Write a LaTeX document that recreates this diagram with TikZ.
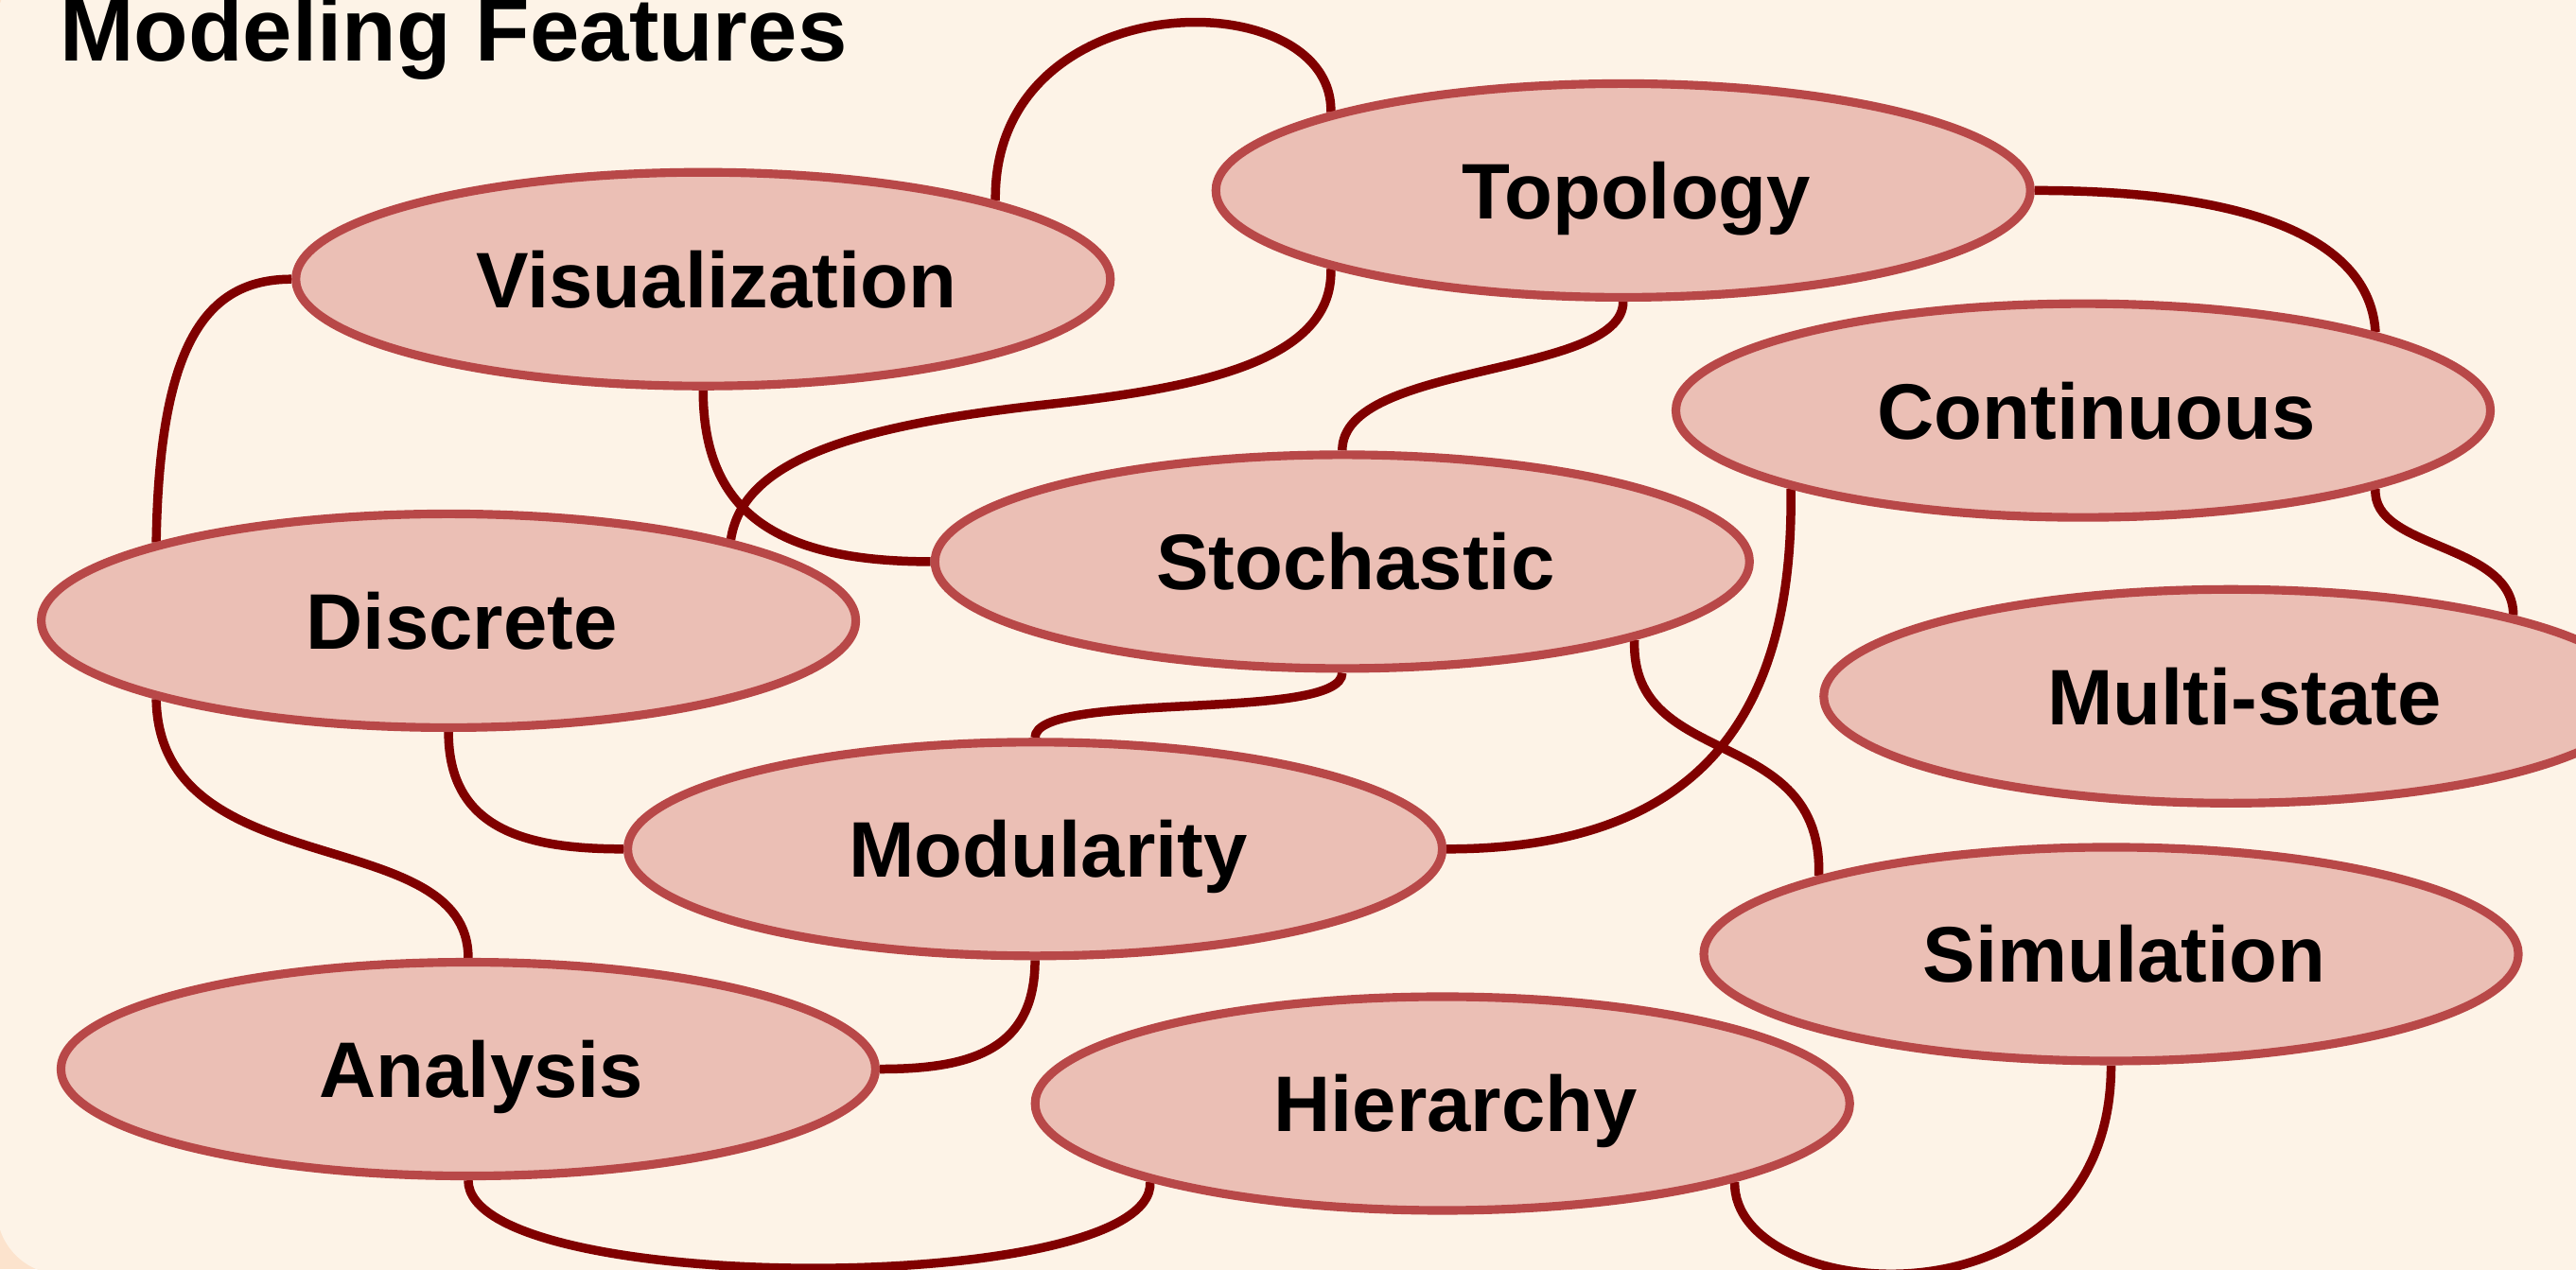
\documentclass[tikz,border=0pt]{standalone}
\usepackage{fontspec}
\setmainfont{Liberation Sans}
\usetikzlibrary{shapes.geometric}
\definecolor{cream}{HTML}{FDF3E7}
\definecolor{peach}{HTML}{FCE3CD}
\definecolor{nodefill}{HTML}{EBBFB5}
\definecolor{nodeline}{HTML}{B84848}
\definecolor{edgecol}{HTML}{800000}
\pgfdeclarelayer{bg}
\pgfdeclarelayer{edges}
\pgfsetlayers{bg,edges,main}
\tikzset{
  feat/.style={ellipse, draw=nodeline, fill=nodefill, line width=2.6pt,
    minimum width=8.61cm, minimum height=2.26cm, inner sep=0pt,
    font=\fontsize{23.7}{28}\selectfont\bfseries, text height=17pt, text depth=0pt,
    execute at begin node={\hspace*{0.28cm}}},
  conn/.style={draw=edgecol, line width=2.7pt},
  titlestyle/.style={anchor=base west, inner sep=0pt, font=\fontsize{26.8}{32}\selectfont\bfseries}
}
\begin{document}
\begin{tikzpicture}[x=0.017366cm, y=-0.017366cm]
\useasboundingbox (0,0) rectangle (1568,773);
\begin{pgfonlayer}{bg}
  \fill[peach] (0,0) rectangle (1568,773);
  \fill[cream, rounded corners=0.69cm] (-2,-25) rectangle (1650,776);
\end{pgfonlayer}

\node[titlestyle] (title) at (36,37) {Modeling Features};

\node[feat] (topo)  at (988,116) {Topology};
\node[feat] (vis)   at (428,170) {Visualization};
\node[feat] (cont)  at (1268,250) {Continuous};
\node[feat] (stoch) at (817,342) {Stochastic};
\node[feat] (disc)  at (273,378) {Discrete};
\node[feat] (multi) at (1358,424) {Multi-state};
\node[feat] (mod)   at (630,517) {Modularity};
\node[feat] (sim)   at (1285,581) {Simulation};
\node[feat] (ana)   at (285,651) {Analysis};
\node[feat] (hier)  at (878,672) {Hierarchy};

\begin{pgfonlayer}{edges}
  \draw[conn] (vis.15) .. controls (604,-12) and (812,-12) .. (topo.165);
  \draw[conn] (vis.west) .. controls (125,170) and (97,210) .. (disc.165);
  \draw[conn] (vis.south) .. controls (428,310) and (470,342) .. (stoch.west);
  \draw[conn] (topo.195) .. controls (812,220) and (730,236) .. (640,246)
                         .. controls (520,259) and (452,280) .. (disc.16);
  \draw[conn] (topo.south) .. controls (988,230) and (817,220) .. (stoch.north);
  \draw[conn] (topo.east) .. controls (1380,116) and (1443,150) .. (cont.15);
  \draw[conn] (cont.-15) .. controls (1443.5,335) and (1530,330) .. (multi.16);
  \draw[conn] (cont.195) .. controls (1092,430) and (1040,517) .. (mod.east);
  \draw[conn] (stoch.south) .. controls (817,440) and (630,420) .. (mod.north);
  \draw[conn] (stoch.-15) .. controls (992,470) and (1110,440) .. (sim.165);
  \draw[conn] (disc.south) .. controls (273,505) and (320,517) .. (mod.west);
  \draw[conn] (disc.195) .. controls (97,540) and (285,500) .. (ana.north);
  \draw[conn] (mod.south) .. controls (630,640) and (590,651) .. (ana.east);
  \draw[conn] (ana.south) .. controls (285,790) and (704,790) .. (hier.195);
  \draw[conn] (hier.-15) .. controls (1054,795) and (1285,815) .. (sim.south);
\end{pgfonlayer}
\end{tikzpicture}
\end{document}
